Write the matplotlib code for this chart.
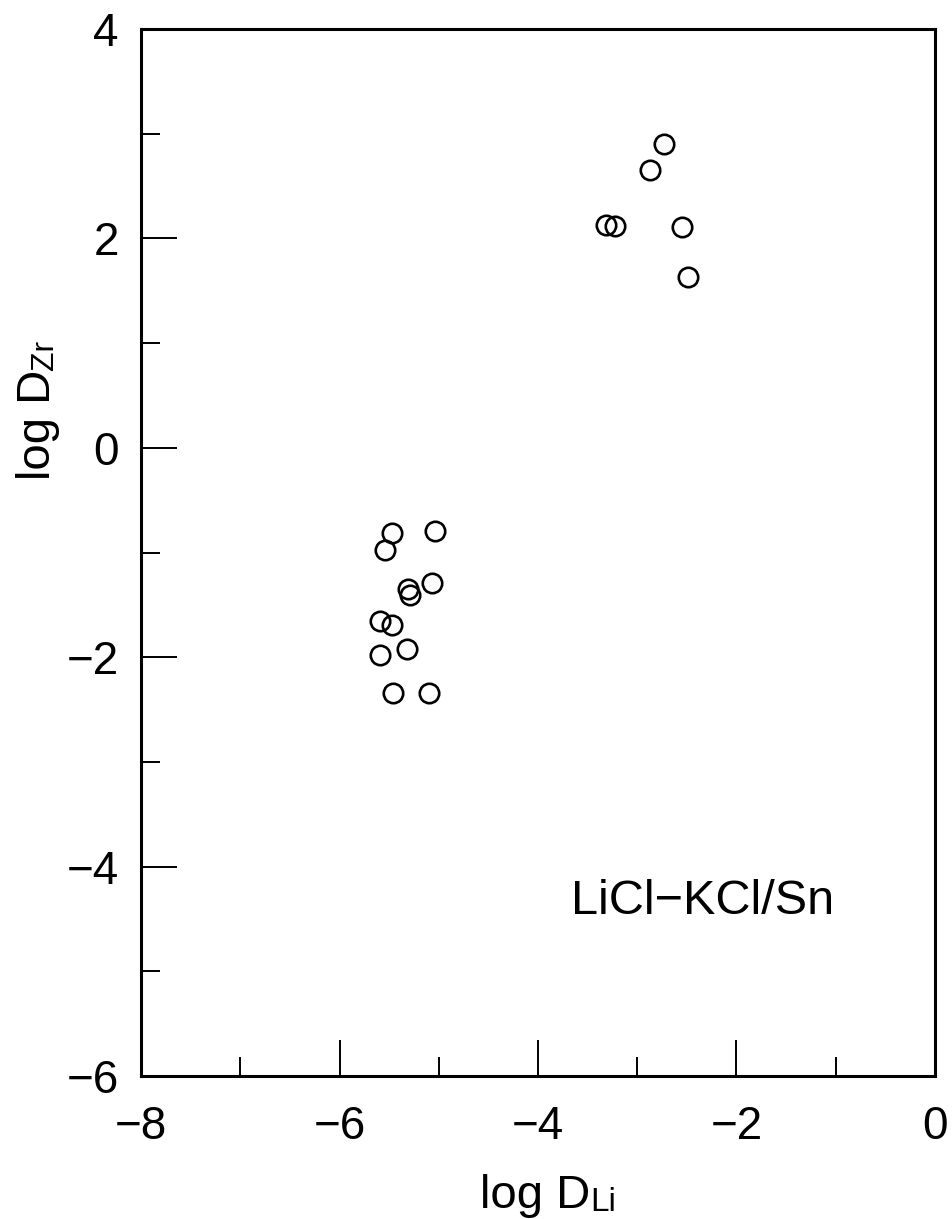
import matplotlib
matplotlib.use('Agg')
import matplotlib.pyplot as plt

plt.rcParams['font.family'] = ['Liberation Sans', 'DejaVu Sans']

# lower cluster
log_dli_low = [-5.47, -5.04, -5.54, -5.07, -5.31, -5.29, -5.59, -5.47, -5.32, -5.59, -5.46, -5.10]
log_dzr_low = [-0.81, -0.79, -0.98, -1.29, -1.35, -1.41, -1.65, -1.69, -1.92, -1.98, -2.34, -2.34]
# upper cluster
log_dli_high = [-2.73, -2.87, -3.31, -3.22, -2.55, -2.49]
log_dzr_high = [2.90, 2.65, 2.13, 2.12, 2.11, 1.63]

xticks = [-8, -6, -4, -2, 0]
yticks = [-6, -4, -2, 0, 2, 4]

fig = plt.figure(figsize=(9.53, 12.19), dpi=100)
ax = fig.add_axes([0.148, 0.1173, 0.833, 0.8589])

mk = dict(marker='o', ls='none', ms=14, mfc='none', mec='black', mew=1.9)
ax.plot(log_dli_low, log_dzr_low, **mk)
ax.plot(log_dli_high, log_dzr_high, **mk)

ax.set_xlim(-8, 0)
ax.set_ylim(-6, 4)
ax.set_xticks(xticks)
ax.set_yticks(yticks)
ax.set_xticks(range(-7, 0, 2), minor=True)
ax.set_yticks(range(-5, 4, 2), minor=True)
ax.set_xticklabels(['\u2212%d' % -v if v < 0 else str(v) for v in xticks])
ax.set_yticklabels(['\u2212%d' % -v if v < 0 else str(v) for v in yticks])

for s in ax.spines.values():
    s.set_linewidth(2.2)
ax.tick_params(which='both', direction='in', top=False, right=False, width=1.4)
ax.tick_params(which='major', length=26, labelsize=33)
ax.tick_params(which='minor', length=13.5)
ax.tick_params(axis='x', which='major', pad=21)
ax.tick_params(axis='y', which='major', pad=16)

# axis labels with baseline subscripts
xl = ax.text(0.427, -0.126, 'log D', transform=ax.transAxes, fontsize=34,
             ha='left', va='baseline', clip_on=False)
ax.annotate('Li', xy=(1, 0), xycoords=xl, ha='left', va='bottom', fontsize=24)

yl = ax.text(-0.1146, 0.569, 'log D', transform=ax.transAxes, fontsize=34,
             rotation=90, rotation_mode='anchor', ha='left', va='baseline',
             clip_on=False)
ax.annotate('Zr', xy=(1, 1), xycoords=yl, ha='right', va='bottom',
            rotation=90, fontsize=23)

ax.text(0.542, 0.155, 'LiCl\u2212KCl/Sn', transform=ax.transAxes, fontsize=35,
        ha='left', va='baseline')

fig.savefig('out.png', dpi=100)
